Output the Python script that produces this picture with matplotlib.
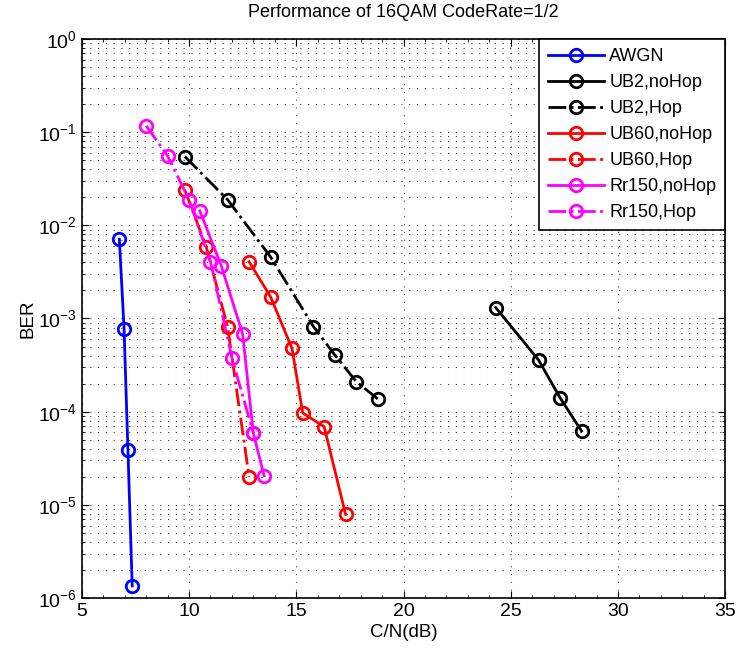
import matplotlib
matplotlib.use("Agg")
from matplotlib import pyplot as plt
from matplotlib.ticker import FixedLocator, MultipleLocator, NullFormatter
import numpy as np

plt.rcParams['font.family'] = ['Liberation Sans', 'DejaVu Sans']
plt.rcParams['mathtext.fontset'] = 'custom'
plt.rcParams['mathtext.rm'] = 'Liberation Sans'

# data (C/N in dB, BER)
awgn_x = [6.75, 6.97, 7.15, 7.35]
awgn_y = [7.1e-3, 7.8e-4, 3.9e-5, 1.35e-6]

ub2_nohop_x = [24.3, 26.3, 27.3, 28.3]
ub2_nohop_y = [1.31e-3, 3.58e-4, 1.41e-4, 6.2e-5]

ub2_hop_x = [9.8, 11.8, 13.8, 15.8, 16.8, 17.8, 18.8]
ub2_hop_y = [0.0547, 0.0188, 4.58e-3, 8.2e-4, 4.05e-4, 2.1e-4, 1.37e-4]

ub60_nohop_x = [12.8, 13.8, 14.8, 15.3, 16.3, 17.3]
ub60_nohop_y = [4.07e-3, 1.71e-3, 4.78e-4, 9.7e-5, 6.9e-5, 7.9e-6]

ub60_hop_x = [9.8, 10.8, 11.8, 12.8]
ub60_hop_y = [0.024, 5.9e-3, 8.1e-4, 2.0e-5]

rr150_nohop_x = [10.5, 11.5, 12.5, 13.0, 13.5]
rr150_nohop_y = [0.0143, 3.7e-3, 6.8e-4, 5.85e-5, 2.05e-5]

rr150_hop_x = [8.0, 9.0, 10.0, 11.0, 12.0, 13.0]
rr150_hop_y = [0.117, 0.0556, 0.0188, 4.05e-3, 3.8e-4, 5.85e-5]

decades = [-6, -5, -4, -3, -2, -1, 0]

fig = plt.figure(figsize=(7.37, 6.48), dpi=100)
ax = fig.add_axes([0.111, 0.077, 0.873, 0.863])

# common marker style
mk = dict(marker='o', markersize=9, markerfacecolor='none', markeredgewidth=2, linewidth=2)

ax.semilogy(awgn_x, awgn_y, '-', color='blue', label='AWGN', **mk)
ax.semilogy(ub2_nohop_x, ub2_nohop_y, '-', color='black', label='UB2,noHop', **mk)
ax.semilogy(ub2_hop_x, ub2_hop_y, '-.', color='black', label='UB2,Hop', **mk)
ax.semilogy(ub60_nohop_x, ub60_nohop_y, '-', color='red', label='UB60,noHop', **mk)
ax.semilogy(ub60_hop_x, ub60_hop_y, '-.', color='red', label='UB60,Hop', **mk)
ax.semilogy(rr150_nohop_x, rr150_nohop_y, '-', color='magenta', label='Rr150,noHop', **mk)
ax.semilogy(rr150_hop_x, rr150_hop_y, '-.', color='magenta', label='Rr150,Hop', **mk)

ax.set_xlim(5, 35)
ax.set_ylim(1e-6, 1)
ax.xaxis.set_major_locator(MultipleLocator(5))
ax.xaxis.set_minor_locator(MultipleLocator(1))
# fixed decades so no label sits outside the axes
major = [10.0 ** d for d in decades]
minor = [m * 10.0 ** d for d in decades[:-1] for m in range(2, 10)]
ax.yaxis.set_major_locator(FixedLocator(major))
ax.yaxis.set_minor_locator(FixedLocator(minor))
ax.set_yticklabels([r'$\mathdefault{10^{%d}}$' % d for d in decades])
ax.yaxis.set_minor_formatter(NullFormatter())

# sparse dotted grid like matlab
dots = (0, (1, 6))
ax.grid(True, which='major', axis='x', linestyle=dots, color='0.3', linewidth=0.8)
ax.grid(True, which='both', axis='y', linestyle=dots, color='0.2', linewidth=0.8)

ax.tick_params(which='both', direction='in', top=True, right=True, labelsize=14)
ax.tick_params(which='major', length=5)
ax.tick_params(which='minor', length=2.5)
for s in ax.spines.values():
    s.set_linewidth(1.2)

ax.set_title('Performance of 16QAM CodeRate=1/2', fontsize=13, pad=16)
ax.set_xlabel('C/N(dB)', fontsize=13.5, labelpad=3)
ax.set_ylabel('BER', fontsize=13.5, labelpad=1)

leg = ax.legend(loc='upper right', fontsize=13, handlelength=3.1, labelspacing=0.5,
                borderaxespad=0, fancybox=False, framealpha=1, edgecolor='black',
                borderpad=0.5, handletextpad=0.3)
leg.get_frame().set_linewidth(1.2)

fig.savefig('out.png', dpi=100)
